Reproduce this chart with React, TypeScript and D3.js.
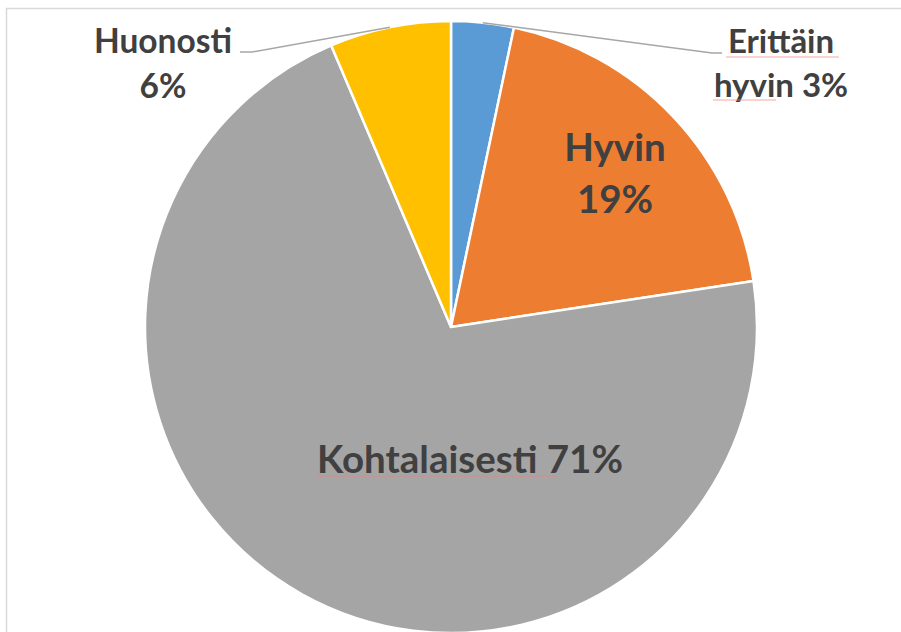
import React, { useRef, useEffect } from 'react';
import * as d3 from 'd3';

// slice data (clockwise from 12 o'clock)
const categories = ['Erittäin hyvin', 'Hyvin', 'Kohtalaisesti', 'Huonosti'];
const values = [3.3, 19.3, 71.0, 6.4];
const labelLines = [['Erittäin', 'hyvin 3%'], ['Hyvin', '19%'], ['Kohtalaisesti 71%'], ['Huonosti', '6%']];
const colors = ['#5B9BD5', '#ED7D31', '#A5A5A5', '#FFC000'];

const W = 901;
const H = 632;

const App = () => {
    const svgRef = useRef<SVGSVGElement>(null);

    useEffect(() => {
        const svg = d3.select(svgRef.current);
        svg.selectAll('*').remove();

        const cx = 451, cy = 327, r = 306;
        const font = 'Lato, "DejaVu Sans", sans-serif';
        const textColor = '#404040';

        // chart area frame (cut off on right/bottom)
        svg.append('rect')
            .attr('x', 6.5).attr('y', 8.5)
            .attr('width', 1000).attr('height', 1000)
            .attr('fill', 'none')
            .attr('stroke', '#d9d9d9')
            .attr('stroke-width', 1.5);

        const pie = d3.pie<number>().sort(null).value(d => d);
        const arcs = pie(values);
        const arc = d3.arc<d3.PieArcDatum<number>>().innerRadius(0).outerRadius(r);

        const g = svg.append('g').attr('transform', `translate(${cx},${cy})`);

        g.selectAll('path.slice')
            .data(arcs)
            .enter()
            .append('path')
            .attr('class', 'slice')
            .attr('d', arc)
            .attr('fill', (d, i) => colors[i])
            .attr('stroke', '#fff')
            .attr('stroke-width', 2.5)
            .attr('stroke-linejoin', 'round');

        const edgePoint = (d: d3.PieArcDatum<number>) => {
            const a = (d.startAngle + d.endAngle) / 2;
            return [cx + r * Math.sin(a), cy - r * Math.cos(a)];
        };

        // label placement: centre x, first baseline, line gap, font size, leader elbow
        const layout = [
            { x: 781, y: 53, gap: 43.5, size: 33, leader: [[712, 53], [722, 53]] },
            { x: 615, y: 161, gap: 52, size: 38.5, leader: null },
            { x: 470, y: 473, gap: 0, size: 38.5, leader: null },
            { x: 163, y: 53, gap: 45, size: 33.5, leader: [[252, 52], [240, 52]] },
        ];

        arcs.forEach((d, i) => {
            const L = layout[i];
            if (L.leader) {
                const p0 = edgePoint(d);
                const pts = [p0, ...L.leader] as [number, number][];
                svg.append('path')
                    .attr('d', d3.line()(pts))
                    .attr('fill', 'none')
                    .attr('stroke', '#a6a6a6')
                    .attr('stroke-width', 1.5);
            }
            const t = svg.append('text')
                .attr('text-anchor', 'middle')
                .attr('font-family', font)
                .attr('font-weight', 700)
                .attr('font-size', L.size)
                .attr('fill', textColor);
            labelLines[i].forEach((line, j) => {
                t.append('tspan')
                    .attr('x', L.x)
                    .attr('y', L.y + j * L.gap)
                    .text(line);
            });
        });

        // spell-check squiggles seen under some words
        const squiggles = [[726, 839, 57], [713, 776, 100], [316, 558, 476]];
        squiggles.forEach(([x1, x2, y]) => {
            svg.append('line')
                .attr('x1', x1).attr('x2', x2)
                .attr('y1', y).attr('y2', y)
                .attr('stroke', '#f08080')
                .attr('stroke-opacity', 0.7)
                .attr('stroke-width', 1);
        });
    }, []);

    return (
        <svg
            ref={svgRef}
            width={W}
            height={H}
            style={{ position: 'fixed', top: 0, left: 0, background: '#fff', display: 'block' }}
        />
    );
};

export default App;
